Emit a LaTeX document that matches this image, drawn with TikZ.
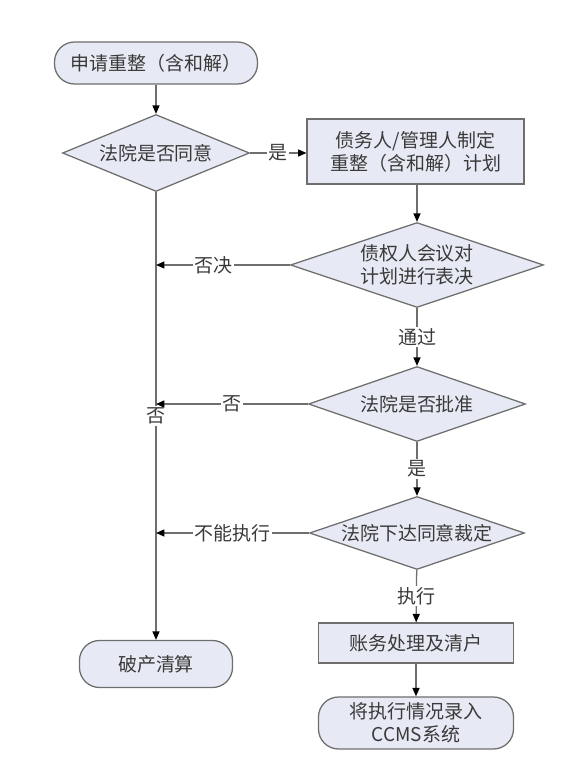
\documentclass[tikz,border=0pt]{standalone}
\usepackage{fontspec}
\usepackage{xcolor}
\usepackage{tikz}
\usetikzlibrary{arrows.meta,shapes.geometric}
\newfontfamily\cjk{Noto Sans CJK SC}
\definecolor{FlowInk}{HTML}{3A3A3A}
\definecolor{FlowLine}{HTML}{6E6E6E}
\definecolor{FlowFill}{HTML}{E7EAF4}

\begin{document}
\begin{tikzpicture}[
  font=\cjk\fontsize{13.5}{16.5}\selectfont,
  text=FlowInk,
  line/.style={draw=FlowLine,line width=0.9pt},
  terminal/.style={line,fill=FlowFill,rounded corners=0.5cm,align=center,inner sep=0pt},
  process/.style={line,fill=FlowFill,align=center,inner sep=0pt},
  decision/.style={line,fill=FlowFill,diamond,aspect=3,align=center,inner sep=0pt},
  flow/.style={line,-{Triangle[length=6pt,width=5pt,color=black]}},
  tag/.style={fill=white,inner sep=1pt},
]
  \useasboundingbox (0,0) rectangle (14.6,19.25);

  \node[terminal,minimum width=5.075cm,minimum height=1.05cm] (apply) at (3.9,17.675)
    {申请重整（含和解）};
  \node[decision,minimum width=4.675cm,minimum height=1.925cm] (agree) at (3.9,15.425)
    {法院是否同意};
  \node[process,minimum width=5.425cm,minimum height=1.625cm] (plan) at (10.39,15.46)
    {债务人/管理人制定\\重整（含和解）计划};
  \node[decision,minimum width=6.325cm,minimum height=2.125cm] (vote) at (10.425,12.625)
    {债权人会议对\\计划进行表决};
  \node[decision,minimum width=5.425cm,minimum height=1.875cm] (approve) at (10.425,9.15)
    {法院是否批准};
  \node[decision,minimum width=5.375cm,minimum height=1.825cm] (ruling) at (10.425,5.925)
    {法院下达同意裁定};
  \node[process,minimum width=4.875cm,minimum height=1cm] (settle) at (10.4,3.175)
    {账务处理及清户};
  \node[terminal,minimum width=4.875cm,minimum height=1.3cm] (record) at (10.4,1.175)
    {将执行情况录入\\CCMS系统};
  \node[terminal,minimum width=3.825cm,minimum height=1.175cm] (liquidate) at (3.9,2.65)
    {破产清算};

  % left trunk first, so the side arrows sit on top of it
  \draw[flow] (agree) -- node[tag] {否} (liquidate);

  \draw[flow] (apply) -- (agree);
  \draw[flow] (agree.east) -- node[tag] {是} (agree.east -| plan.west);
  \draw[flow] (plan.south -| vote.north) -- (vote.north);
  \draw[flow] (vote.west) -- node[tag,pos=0.57] {否决} (vote.west -| agree.south);
  \draw[flow] (vote) -- node[tag] {通过} (approve);
  \draw[flow] (approve.west) -- node[tag] {否} (approve.west -| agree.south);
  \draw[flow] (approve) -- node[tag] {是} (ruling);
  \draw[flow] (ruling.west) -- node[tag] {不能执行} (ruling.west -| agree.south);
  \draw[flow] (ruling) -- node[tag] {执行} (settle);
  \draw[flow] (settle) -- (record);
\end{tikzpicture}
\end{document}
